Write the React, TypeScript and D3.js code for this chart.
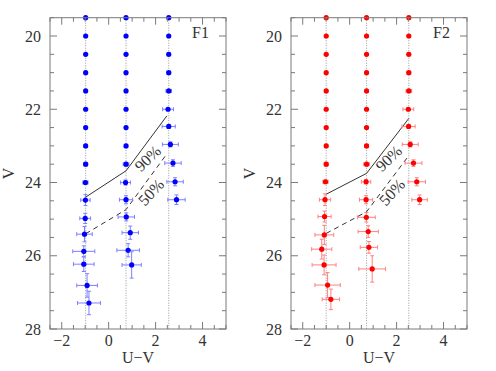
import React from "react";
import * as d3 from "d3";

// [U-V, V, errU-V, errV]
const f1Col1: number[][] = [
  [-0.98, 19.5, 0.03, 0.01], [-0.98, 20, 0.03, 0.01], [-0.98, 20.5, 0.03, 0.01], [-0.98, 21, 0.03, 0.01],
  [-0.98, 21.5, 0.03, 0.01], [-0.98, 22, 0.04, 0.02], [-0.98, 22.5, 0.05, 0.03], [-0.98, 23, 0.06, 0.04],
  [-0.98, 23.5, 0.08, 0.05], [-0.99, 24.0, 0.11, 0.05], [-0.99, 24.48, 0.2, 0.15], [-1.0, 24.98, 0.23, 0.14],
  [-1.03, 25.41, 0.33, 0.21], [-1.06, 25.88, 0.47, 0.15], [-1.06, 26.23, 0.44, 0.2], [-0.92, 26.81, 0.44, 0.32],
  [-0.84, 27.29, 0.49, 0.32],
];
const f1Col2: number[][] = [
  [0.74, 19.5, 0.03, 0.01], [0.74, 20, 0.03, 0.01], [0.74, 20.5, 0.03, 0.01], [0.74, 21, 0.03, 0.01],
  [0.74, 21.5, 0.03, 0.01], [0.74, 22, 0.04, 0.02], [0.74, 22.5, 0.05, 0.03], [0.74, 23, 0.07, 0.04],
  [0.74, 23.5, 0.12, 0.05], [0.72, 24.0, 0.21, 0.07], [0.74, 24.47, 0.28, 0.11], [0.75, 24.94, 0.35, 0.11],
  [0.92, 25.37, 0.35, 0.18], [0.83, 25.85, 0.48, 0.18], [0.98, 26.25, 0.41, 0.36],
];
const f1Col3: number[][] = [
  [2.56, 19.5, 0.05, 0.01], [2.56, 20, 0.06, 0.01], [2.56, 20.5, 0.07, 0.01], [2.56, 21, 0.08, 0.01],
  [2.56, 21.5, 0.12, 0.02], [2.53, 22.0, 0.23, 0.03], [2.56, 22.47, 0.28, 0.05], [2.63, 22.96, 0.34, 0.07],
  [2.74, 23.47, 0.35, 0.09], [2.83, 23.98, 0.35, 0.11], [2.89, 24.47, 0.37, 0.13],
];
const f2Col1: number[][] = [
  [-1.0, 19.5, 0.03, 0.01], [-1.0, 20, 0.03, 0.01], [-1.0, 20.5, 0.03, 0.01], [-1.0, 21, 0.03, 0.01],
  [-1.0, 21.5, 0.03, 0.01], [-1.0, 22, 0.04, 0.02], [-1.0, 22.5, 0.05, 0.03], [-1.0, 23, 0.06, 0.04],
  [-1.0, 23.5, 0.08, 0.05], [-1.03, 23.98, 0.11, 0.05], [-1.05, 24.47, 0.24, 0.16], [-1.07, 24.93, 0.28, 0.15],
  [-1.08, 25.43, 0.4, 0.26], [-1.19, 25.82, 0.43, 0.27], [-1.09, 26.25, 0.51, 0.27], [-0.94, 26.8, 0.54, 0.34],
  [-0.8, 27.19, 0.37, 0.28],
];
const f2Col2: number[][] = [
  [0.72, 19.5, 0.03, 0.01], [0.72, 20, 0.03, 0.01], [0.72, 20.5, 0.03, 0.01], [0.72, 21, 0.03, 0.01],
  [0.72, 21.5, 0.03, 0.01], [0.72, 22, 0.04, 0.02], [0.72, 22.5, 0.05, 0.03], [0.72, 23, 0.07, 0.04],
  [0.72, 23.5, 0.12, 0.05], [0.7, 23.98, 0.2, 0.06], [0.7, 24.47, 0.28, 0.11], [0.71, 24.95, 0.38, 0.13],
  [0.79, 25.34, 0.43, 0.16], [0.82, 25.77, 0.37, 0.16], [0.96, 26.36, 0.57, 0.36],
];
const f2Col3: number[][] = [
  [2.52, 19.5, 0.05, 0.01], [2.52, 20, 0.06, 0.01], [2.52, 20.5, 0.07, 0.01], [2.52, 21, 0.08, 0.01],
  [2.52, 21.5, 0.12, 0.02], [2.5, 22.0, 0.23, 0.03], [2.51, 22.47, 0.28, 0.05], [2.58, 22.96, 0.34, 0.07],
  [2.72, 23.47, 0.36, 0.09], [2.86, 23.98, 0.37, 0.11], [2.98, 24.47, 0.33, 0.13],
];
const f1Guides = [-0.98, 0.74, 2.56];
const f2Guides = [-1.0, 0.72, 2.52];
const f1Curve90: [number, number][] = [[-0.98, 24.4], [0.74, 23.68], [2.48, 22.18]];
const f1Curve50: [number, number][] = [[-0.98, 25.4], [0.74, 24.74], [2.5, 23.2]];
const f2Curve90: [number, number][] = [[-1.0, 24.32], [0.72, 23.75], [2.52, 22.25]];
const f2Curve50: [number, number][] = [[-1.0, 25.39], [0.72, 24.8], [2.48, 23.3]];
const xTicksMajor = [-2, 0, 2, 4];
const yTicksMajor = [20, 22, 24, 26, 28];
const panelNames = ["F1", "F2"];

const W = 496, H = 371;
const TOP = 17.7, PH = 311.3, PW = 176;
const FONT = "Liberation Serif";
const FRAME = "#7a7a7a";

function Panel({ left, name, cols, guides, c90, c50, color, light }: any) {
  const x = d3.scaleLinear().domain([-2.5, 5]).range([left, left + PW]);
  const y = d3.scaleLinear().domain([19.5, 28]).range([TOP, TOP + PH]);
  const line = d3.line<[number, number]>().x(d => x(d[0])).y(d => y(d[1]));
  const xMinor = d3.range(-2.5, 5.001, 0.5);
  const yMinor = d3.range(19.5, 28.001, 0.5);
  const clipId = "clip" + name;
  const cap = 2;
  return (
    <g>
      <defs>
        <clipPath id={clipId}>
          <rect x={left} y={TOP - 3} width={PW} height={PH + 3} />
        </clipPath>
      </defs>
      {guides.map((g: number, i: number) => (
        <line key={"g" + i} x1={x(g)} x2={x(g)} y1={TOP} y2={TOP + PH} stroke="#9a9a9a" strokeWidth={1} strokeDasharray="1,1.5" />
      ))}
      <path d={line(c90) || ""} fill="none" stroke="#333" strokeWidth={1} />
      <path d={line(c50) || ""} fill="none" stroke="#333" strokeWidth={1} strokeDasharray="5,4" />
      <g clipPath={`url(#${clipId})`}>
        {cols.flat().map((p: number[], i: number) => {
          const cx = x(p[0]), cy = y(p[1]);
          const x1 = x(p[0] - p[2]), x2 = x(p[0] + p[2]);
          const y1 = y(p[1] - p[3]), y2 = y(p[1] + p[3]);
          return (
            <g key={"p" + i}>
              <g stroke={light} strokeWidth={1}>
                <line x1={x1} x2={x2} y1={cy} y2={cy} />
                <line x1={x1} x2={x1} y1={cy - cap} y2={cy + cap} />
                <line x1={x2} x2={x2} y1={cy - cap} y2={cy + cap} />
                <line x1={cx} x2={cx} y1={y1} y2={y2} />
                <line x1={cx - cap} x2={cx + cap} y1={y1} y2={y1} />
                <line x1={cx - cap} x2={cx + cap} y1={y2} y2={y2} />
              </g>
              <circle cx={cx} cy={cy} r={2.6} fill={color} />
            </g>
          );
        })}
      </g>
      <rect x={left} y={TOP} width={PW} height={PH} fill="none" stroke={FRAME} strokeWidth={1} />
      <g stroke={FRAME} strokeWidth={1}>
        {xMinor.map((t, i) => {
          const major = Math.abs(t / 2 - Math.round(t / 2)) < 1e-6;
          const len = major ? 7 : 4;
          return (
            <g key={"xt" + i}>
              <line x1={x(t)} x2={x(t)} y1={TOP + PH} y2={TOP + PH - len} />
              <line x1={x(t)} x2={x(t)} y1={TOP} y2={TOP + len} />
            </g>
          );
        })}
        {yMinor.map((t, i) => {
          const major = Math.abs(t / 2 - Math.round(t / 2)) < 1e-6;
          const len = major ? 7 : 4;
          return (
            <g key={"yt" + i}>
              <line x1={left} x2={left + len} y1={y(t)} y2={y(t)} />
              <line x1={left + PW} x2={left + PW - len} y1={y(t)} y2={y(t)} />
            </g>
          );
        })}
      </g>
      <g fontFamily={FONT} fontSize={16} fill="#333">
        {xTicksMajor.map(t => (
          <text key={"xl" + t} x={x(t)} y={TOP + PH + 17} textAnchor="middle">{t < 0 ? "\u2212" + Math.abs(t) : t}</text>
        ))}
        {yTicksMajor.map(t => (
          <text key={"yl" + t} x={left - 9} y={y(t) + 5.5} textAnchor="end">{t}</text>
        ))}
        <text x={left + PW / 2} y={TOP + PH + 34} textAnchor="middle">U{"\u2212"}V</text>
        <text transform={`translate(${left - 40},${TOP + PH / 2}) rotate(-90)`} textAnchor="middle" dominantBaseline="middle">V</text>
        <text x={left + PW - 17} y={TOP + 20} textAnchor="end">{name}</text>
        <text transform={`translate(${x(1.72)},${y(23.38)}) rotate(-44)`} textAnchor="middle" dominantBaseline="middle">90%</text>
        <text transform={`translate(${x(1.86)},${y(24.3)}) rotate(-47)`} textAnchor="middle" dominantBaseline="middle">50%</text>
      </g>
    </g>
  );
}

export default function App() {
  return (
    <svg width={W} height={H} style={{ position: "absolute", left: 0, top: 0, background: "#fff" }}>
      <rect width={W} height={H} fill="#fff" />
      <Panel left={50} name={panelNames[0]} cols={[f1Col1, f1Col2, f1Col3]} guides={f1Guides}
        c90={f1Curve90} c50={f1Curve50} color="#0000ff" light="#7f7fff" />
      <Panel left={291} name={panelNames[1]} cols={[f2Col1, f2Col2, f2Col3]} guides={f2Guides}
        c90={f2Curve90} c50={f2Curve50} color="#ff0000" light="#ff8080" />
    </svg>
  );
}
